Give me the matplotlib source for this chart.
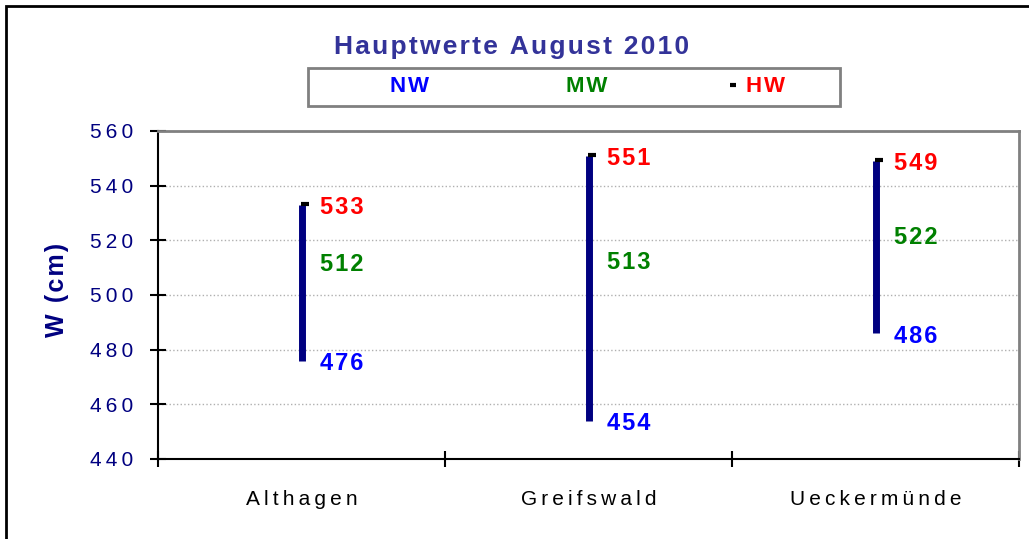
import numpy as np
import matplotlib
matplotlib.use("Agg")
import matplotlib.pyplot as plt
from matplotlib.lines import Line2D
from matplotlib.patches import Rectangle
from matplotlib import transforms

# Hauptwerte August 2010 (cm)
stations = ["Althagen", "Greifswald", "Ueckermünde"]
nw = [476, 454, 486]
mw = [512, 513, 522]
hw = [533, 551, 549]
yticks = [440, 460, 480, 500, 520, 540, 560]
series_names = ["NW", "MW", "HW"]
series_colors = ["#0000ff", "#008000", "#ff0000"]

plt.rcParams["font.family"] = ["Liberation Sans", "DejaVu Sans"]


def spaced(s, sep="\u2009"):
    # fake the wide letter spacing of the original chart
    return sep.join(s)


fig = plt.figure(figsize=(10.29, 5.39), dpi=100)
ax = fig.add_axes([158 / 1029, 80 / 539, 861 / 1029, 328 / 539])

x = np.arange(len(stations)) + 0.5
ax.vlines(x, nw, hw, color="#000080", lw=5, zorder=3)
dash = transforms.offset_copy(ax.transData, fig=fig, x=3, y=1, units="dots")
ax.plot(x, hw, ls="none", marker="_", ms=6, mew=3, color="black",
        transform=dash, zorder=4)

for xi, lo, mid, hi in zip(x, nw, mw, hw):
    for v, c in zip((lo, mid, hi), series_colors):
        ax.annotate(spaced(str(v), "\u200a"), (xi, v), xytext=(13, -2),
                    textcoords="offset points", ha="left", va="center",
                    color=c, fontsize=17, fontweight="bold")

ax.set_xlim(0, 3)
ax.set_ylim(440, 560)
ax.set_yticks(yticks)
ax.set_yticklabels([spaced(str(t)) for t in yticks])
ax.set_xticks([0, 1, 2, 3])
ax.set_xticklabels([])
ax.set_xticks(x, minor=True)
ax.set_xticklabels([spaced(s) for s in stations], minor=True)

ax.tick_params(axis="x", which="minor", length=0, pad=22, labelsize=15)
ax.tick_params(axis="x", which="major", direction="inout", length=12, width=1.5)
ax.tick_params(axis="y", direction="inout", length=12, width=1.5,
               labelsize=15, labelcolor="#000080", pad=12)
ax.grid(axis="y", color="#b0b0b0", ls=":", lw=1)
ax.set_axisbelow(True)
for side in ("top", "right"):
    ax.spines[side].set_color("#808080")
    ax.spines[side].set_linewidth(2)
for side in ("left", "bottom"):
    ax.spines[side].set_linewidth(1.5)

ax.set_ylabel(spaced("W (cm)", "\u200a"), fontsize=18, fontweight="bold",
              color="#000080", va="center")
ax.yaxis.set_label_coords(-0.117, 0.515)

fig.text(512 / 1029, 1 - 47 / 539, spaced("Hauptwerte August 2010", "\u200a"),
         ha="center", va="center", fontsize=19, fontweight="bold", color="#333399")

handles = [Line2D([], [], ls="none"), Line2D([], [], ls="none"),
           Line2D([], [], ls="none", marker="_", ms=5, mew=3, color="black")]
leg = fig.legend(handles, [spaced(n, "\u200a") for n in series_names], ncol=3,
                 loc="center", bbox_to_anchor=(576 / 1029, 1 - 87 / 539),
                 frameon=False, handlelength=0.9, handletextpad=0.1,
                 columnspacing=5.2, prop={"size": 16, "weight": "bold"})
for t, c in zip(leg.get_texts(), series_colors):
    t.set_color(c)

fig.add_artist(Rectangle((308 / 1029, 1 - 106 / 539), 532 / 1029, 38 / 539,
                         transform=fig.transFigure, fill=False,
                         ec="#808080", lw=2))
fig.add_artist(Rectangle((6 / 1029, -0.1), 1.2, 1.1 - 6 / 539,
                         transform=fig.transFigure, fill=False,
                         ec="black", lw=2))

fig.savefig("out.png", dpi=100)
